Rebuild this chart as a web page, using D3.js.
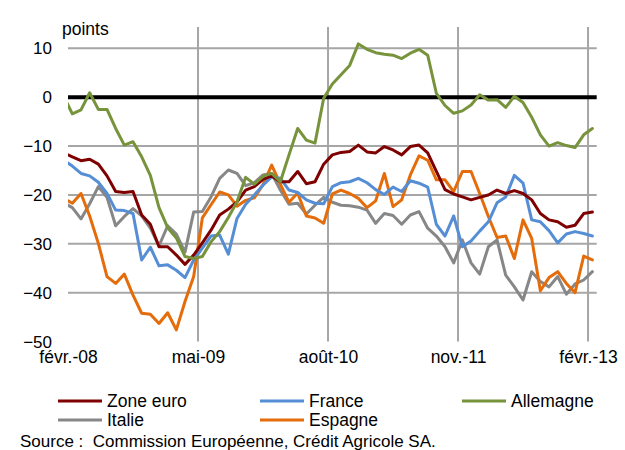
<!DOCTYPE html>
<html><head><meta charset="utf-8">
<script src="https://cdn.jsdelivr.net/npm/d3@7/dist/d3.min.js"></script>
<style>
body{margin:0;background:#fff;}
svg text{font-family:"Liberation Sans",Arial,sans-serif;fill:#000;}
</style></head>
<body><svg id="c" width="625" height="450"></svg>
<script>
// Monthly categories: janv.-08 (index -1, clipped) to févr.-13
const monthNames = ["janv.","févr.","mars","avr.","mai","juin","juil.","août","sept.","oct.","nov.","déc."];
const categories = [];
for (let k = 0; k < 62; k++) { const m = k % 12, y = 8 + Math.floor(k / 12); categories.push(monthNames[m] + "-" + String(y).padStart(2, "0")); }
const xTickLabels = ["févr.-08","mai-09","août-10","nov.-11","févr.-13"];
const yTicks = [10, 0, -10, -20, -30, -40, -50];

const zoneEuro = [-11.4,-12.2,-13.0,-12.7,-13.7,-16.1,-19.3,-19.5,-19.3,-24.1,-26.0,-30.6,-30.6,-32.3,-34.2,-32.3,-29.8,-27.2,-24.1,-22.9,-21.4,-19.0,-18.3,-16.8,-16.1,-17.3,-17.3,-15.2,-17.7,-17.3,-13.7,-11.8,-11.3,-11.1,-9.8,-11.2,-11.4,-10.1,-10.8,-11.8,-10.1,-9.8,-11.4,-15.2,-18.9,-19.8,-20.4,-21.0,-20.5,-20.0,-19.0,-19.7,-19.1,-19.7,-21.0,-23.8,-25.1,-25.5,-26.6,-26.2,-23.8,-23.5];
const france = [-12.9,-14.1,-15.6,-16.1,-17.4,-19.7,-23.1,-23.2,-23.8,-33.3,-30.7,-34.5,-34.3,-35.4,-36.9,-33.3,-30.9,-28.4,-28.2,-32.1,-24.8,-21.9,-20.0,-18.0,-16.3,-16.6,-19.0,-19.5,-21.0,-21.7,-21.8,-18.3,-17.5,-17.3,-16.6,-17.5,-18.9,-19.9,-18.4,-19.3,-17.1,-17.6,-18.4,-26.0,-28.4,-24.3,-30.6,-29.4,-27.4,-25.5,-21.6,-20.4,-16.0,-17.6,-25.1,-25.5,-27.3,-29.8,-28.0,-27.5,-27.9,-28.4];
const allemagne = [0.2,-3.4,-2.6,0.9,-2.5,-2.5,-6.4,-9.8,-9.1,-12.2,-16.0,-22.6,-26.7,-28.8,-32.6,-33.0,-32.6,-29.6,-27.5,-24.6,-21.4,-16.4,-17.8,-16.2,-15.6,-17.3,-11.8,-6.4,-8.8,-9.4,-0.2,2.7,4.6,6.5,10.9,9.8,9.1,8.8,8.6,7.9,9.0,9.8,8.6,0.8,-1.7,-3.3,-2.8,-1.6,0.5,-0.6,-0.5,-2.1,0.2,-1.1,-4.1,-7.7,-10.0,-9.3,-9.9,-10.3,-7.7,-6.4];
const italie = [-21.6,-22.6,-24.9,-21.8,-18.3,-20.5,-26.3,-24.4,-22.8,-24.3,-26.8,-30.4,-26.3,-28.0,-31.7,-23.5,-23.4,-20.4,-16.6,-14.9,-15.6,-18.1,-17.5,-15.9,-15.6,-19.0,-21.9,-21.7,-23.9,-22.1,-20.5,-21.5,-22.1,-22.2,-22.5,-23.1,-25.8,-23.8,-24.2,-26.0,-24.1,-23.4,-26.8,-28.4,-30.6,-33.9,-29.2,-33.9,-36.2,-30.6,-29.2,-36.4,-38.8,-41.5,-35.7,-37.7,-38.8,-36.7,-40.3,-38.2,-37.4,-35.7];
const espagne = [-20.7,-21.7,-19.7,-24.3,-29.9,-36.7,-38.1,-36.2,-40.5,-44.2,-44.4,-46.3,-44.1,-47.6,-41.8,-36.7,-24.7,-22.0,-19.4,-20.0,-22.3,-21.1,-20.6,-17.9,-13.9,-17.8,-21.5,-19.6,-24.3,-24.7,-25.8,-19.8,-19.0,-19.7,-20.7,-22.6,-21.2,-15.6,-22.4,-21.0,-15.9,-12.0,-12.9,-16.9,-16.9,-19.3,-15.2,-15.2,-19.7,-24.4,-28.7,-28.4,-33.0,-25.1,-28.9,-39.6,-36.9,-35.7,-38.1,-40.0,-32.5,-33.3];

const seriesNames = ["Zone euro","France","Allemagne","Italie","Espagne"];
const seriesValues = [zoneEuro, france, allemagne, italie, espagne];
const seriesColors = ["#7f0000","#558ed5","#77933c","#878787","#e46c0a"];

const svg = d3.select("#c");
const L = 68, R = 596.7, T = 27, B = 341.6;
const firstVisible = categories.indexOf("févr.-08");
const x = d3.scaleLinear().domain([-0.5, categories.length - firstVisible - 0.5]).range([L, R]);
const y = d3.scaleLinear().domain([-50, 10]).range([B, 48.3]);
const xi = k => x(k - firstVisible);

// vertical gridlines at labelled category boundaries
const tickIdx = xTickLabels.map(l => categories.indexOf(l) - firstVisible - 0.5);
const grid = svg.append("g");
grid.selectAll("line.v").data(tickIdx.filter(t => t > 0)).join("line").attr("class", "v")
  .attr("x1", d => x(d)).attr("x2", d => x(d)).attr("y1", T).attr("y2", B)
  .attr("stroke", "#a6a6a6").attr("stroke-width", 2);
// horizontal gridlines
grid.selectAll("line.h").data(yTicks.filter(v => v !== 0 && v !== -50)).join("line").attr("class", "h")
  .attr("x1", L).attr("x2", R).attr("y1", d => y(d)).attr("y2", d => y(d))
  .attr("stroke", "#a6a6a6").attr("stroke-width", 2);
grid.append("line")
  .attr("x1", L).attr("x2", R).attr("y1", y(0)).attr("y2", y(0))
  .attr("stroke", "#000").attr("stroke-width", 4);

// y axis labels
const yAxis = d3.axisLeft(y).tickValues(yTicks).tickSize(0).tickPadding(0).tickFormat(d3.format("d"));
const ya = svg.append("g").attr("transform", "translate(52,0)").call(yAxis);
ya.select(".domain").remove();
ya.selectAll("text").attr("font-size", 17).attr("font-family", "Liberation Sans, Arial").attr("fill", "#000");

// x axis labels
const xAxis = d3.axisBottom(x).tickValues(tickIdx).tickSize(0).tickPadding(0)
  .tickFormat((d, i) => xTickLabels[i]);
const xa = svg.append("g").attr("transform", "translate(0,351)").call(xAxis);
xa.select(".domain").remove();
xa.selectAll("text").attr("font-size", 17.5).attr("font-family", "Liberation Sans, Arial").attr("fill", "#000");

svg.append("text").attr("x", 62).attr("y", 35).attr("font-size", 17.5).text("points");

// clip
svg.append("clipPath").attr("id", "clip").append("rect")
  .attr("x", L).attr("y", 0).attr("width", R - L + 4).attr("height", 450);

const line = d3.line().x((d, k) => xi(k)).y(d => y(d));
const order = [3, 4, 1, 0, 2];
const gl = svg.append("g").attr("clip-path", "url(#clip)");
order.forEach(s => {
  gl.append("path").datum(seriesValues[s]).attr("d", line)
    .attr("fill", "none").attr("stroke", seriesColors[s]).attr("stroke-width", 3)
    .attr("stroke-linejoin", "round").attr("stroke-linecap", "round");
});

// legend
const legendPos = [[58,401],[260,401],[462,401],[58,420],[260,420]];
const lg = svg.append("g");
seriesNames.forEach((n, s) => {
  const [lx, ly] = legendPos[s];
  lg.append("line").attr("x1", lx).attr("x2", lx + 44).attr("y1", ly).attr("y2", ly)
    .attr("stroke", seriesColors[s]).attr("stroke-width", 3);
  lg.append("text").attr("x", lx + 49).attr("y", ly + 6).attr("font-size", 17.5).text(n);
});
svg.append("text").attr("x", 20).attr("y", 447).attr("font-size", 17)
  .attr("xml:space", "preserve").style("white-space", "pre")
  .text("Source :  Commission Européenne, Crédit Agricole SA.");
</script></body></html>
